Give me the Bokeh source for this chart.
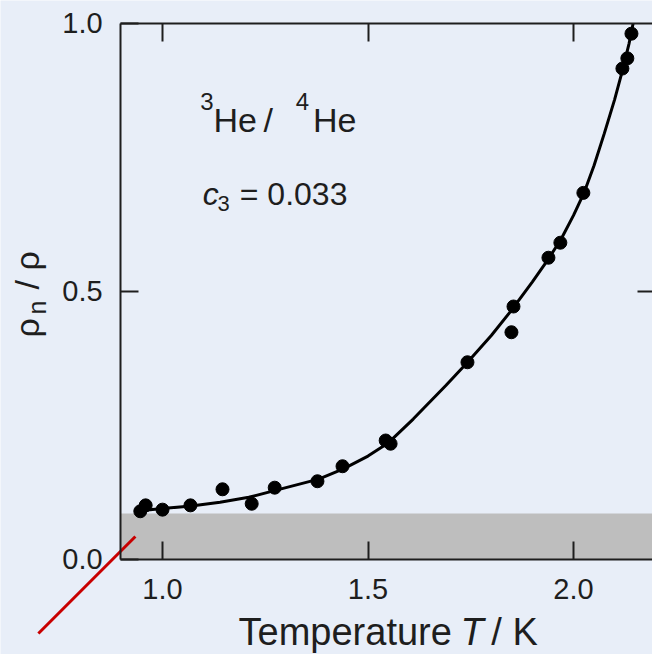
from math import pi

from bokeh.embed import file_html
from bokeh.resources import INLINE
from bokeh.plotting import figure
from bokeh.models import (Range1d, LinearAxis, FixedTicker, PrintfTickFormatter,
                          BoxAnnotation, Label)

# Measured normal-fluid fraction for the 3He/4He mixture
t_data = [0.946, 0.959, 1.000, 1.068, 1.146, 1.217, 1.273, 1.377, 1.438, 1.543,
          1.555, 1.742, 1.849, 1.854, 1.939, 1.968, 2.024, 2.119, 2.131, 2.141]
rho_data = [0.090, 0.101, 0.093, 0.101, 0.131, 0.104, 0.134, 0.146, 0.174, 0.222,
            0.216, 0.368, 0.424, 0.472, 0.563, 0.591, 0.684, 0.916, 0.935, 0.981]

# Fitted curve
curve_t = [0.935, 0.97, 1.00, 1.07, 1.14, 1.21, 1.27, 1.38, 1.44, 1.50, 1.55,
           1.61, 1.69, 1.74, 1.80, 1.85, 1.90, 1.94, 1.97, 2.00, 2.025, 2.05,
           2.075, 2.10, 2.12, 2.135, 2.145]
curve_rho = [0.091, 0.093, 0.095, 0.100, 0.107, 0.116, 0.128, 0.150, 0.169, 0.193,
             0.218, 0.262, 0.325, 0.366, 0.418, 0.466, 0.518, 0.562, 0.598, 0.642,
             0.683, 0.735, 0.795, 0.858, 0.915, 0.962, 1.000]

# Axis extents of the boxed plot area
t_min, t_max = 0.898, 2.192
rho_min, rho_max = 0.0, 1.0

# Shaded band at the bottom and the pointer line
band_top = 0.086
pointer_t = [0.698, 0.934]
pointer_rho = [-0.138, 0.043]

x_ticks = [1.0, 1.5, 2.0]
y_ticks = [0.0, 0.5, 1.0]

FONT = "Liberation Sans"
INK = "#1e1e1e"
BG = "#e8eef8"

# The frame spans the whole canvas; axes are pinned with fixed_location
p = figure(width=652, height=654, output_backend="svg", toolbar_location=None,
           x_range=Range1d(0.60584, 2.19221), y_range=Range1d(-0.17724, 1.04291),
           x_axis_location=None, y_axis_location=None,
           min_border=0)
p.background_fill_color = BG
p.border_fill_color = BG
p.outline_line_color = None
p.grid.visible = False


def styled_axis(ticks, loc, bounds, labels=True):
    ax = LinearAxis(fixed_location=loc, bounds=bounds)
    ax.ticker = FixedTicker(ticks=ticks)
    ax.minor_tick_line_color = None
    ax.major_tick_in = 18
    ax.major_tick_out = 0
    ax.major_tick_line_color = INK
    ax.major_tick_line_width = 2
    ax.axis_line_color = INK
    ax.axis_line_width = 2
    ax.formatter = PrintfTickFormatter(format="%.1f")
    ax.major_label_text_font = FONT
    ax.major_label_text_font_size = "29px"
    ax.major_label_text_color = INK if labels else None
    return ax


bottom = styled_axis(x_ticks, rho_min, (t_min, t_max))
bottom.major_label_standoff = 20
top = styled_axis(x_ticks, rho_max, (t_min, t_max), labels=False)
left = styled_axis(y_ticks, t_min, (rho_min, rho_max))
left.major_label_standoff = 18
right = styled_axis([0.5], 2.2, (rho_min, rho_max), labels=False)
right.axis_line_color = None
p.add_layout(bottom, "below")
p.add_layout(top, "above")
p.add_layout(left, "left")
p.add_layout(right, "right")

p.add_layout(BoxAnnotation(left=t_min, bottom=rho_min, top=band_top,
                           fill_color="#bebebe", fill_alpha=1.0,
                           line_color=None, level="underlay"))

p.line(curve_t, curve_rho, line_color="black", line_width=3)
p.scatter(t_data, rho_data, size=13, fill_color="black", line_color="black")
p.line(pointer_t, pointer_rho, line_color="#c80000", line_width=3)


def text(x, y, s, px, style="normal", rotated=False):
    # lift the text so that its alphabetic baseline sits on (x, y)
    lift = round(0.31 * px)
    p.add_layout(Label(x=x, y=y, text=s, text_font=FONT, text_font_size=f"{px}px",
                       text_font_style=style, text_color=INK,
                       angle=pi / 2 if rotated else 0.0,
                       x_offset=-lift if rotated else 0,
                       y_offset=0 if rotated else lift,
                       text_align="left", text_baseline="alphabetic"))


# 3He / 4He annotation
text(1.092, 0.841, "3", 24)
text(1.124, 0.800, "He", 34)
text(1.246, 0.800, "/", 34)
text(1.324, 0.841, "4", 24)
text(1.366, 0.800, "He", 34)

# c3 = 0.033
text(1.098, 0.664, "c", 32, "italic")
text(1.134, 0.652, "3", 22)
text(1.188, 0.664, "= 0.033", 32)

# x-axis title
text(1.185, -0.157, "Temperature", 38)
text(1.725, -0.157, "T", 38, "italic")
text(1.800, -0.157, "/ K", 38)

# y-axis title, rotated: rho_n / rho
text(0.696, 0.4142, "\u03c1", 34, rotated=True)
text(0.713, 0.4571, "n", 25, rotated=True)
text(0.696, 0.5037, "/ \u03c1", 34, rotated=True)

open("out.html", "w").write(file_html(p, INLINE))
